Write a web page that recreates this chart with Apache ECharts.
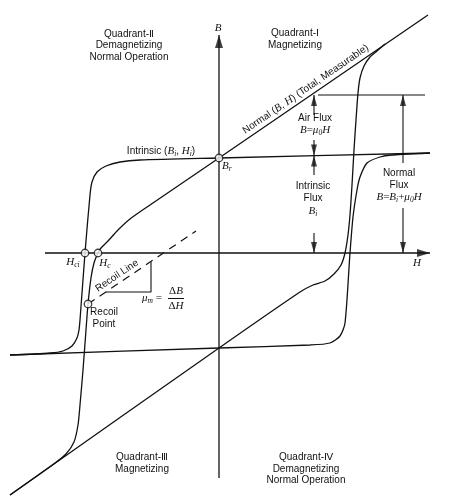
<!DOCTYPE html>
<html><head><meta charset="utf-8">
<script src="https://cdn.jsdelivr.net/npm/echarts@6/dist/echarts.min.js"></script>
<style>html,body{margin:0;padding:0;background:#fff}#c{width:463px;height:502px}</style>
</head><body><div id="c"></div>
<script>
// ---- Data in diagram units: [H, B] ----
const normalUpper = [[20.9,23.8],[0,9.5],[-6.9,4.8],[-8.9,3.4],[-10.1,2.3],[-11.1,1.2],[-11.8,0.5],[-12.1,0],[-12.5,-1.0],[-12.8,-2.5],[-13.1,-5.1],[-13.3,-7.7],[-13.6,-11.7],[-13.9,-15.2],[-14.1,-17.2],[-14.5,-18.9],[-15.3,-20.1],[-16.4,-21.0],[-20.9,-24.2]];
const normalLower = [[-20.9,-24.2],[0,-9.5],[8.1,-3.9],[9.4,-3.2],[10.6,-2.8],[11.5,-2.1],[12.2,-1.2],[12.6,0],[12.9,1.8],[13.1,3.8],[13.3,6.8],[13.5,10.3],[13.7,13.3],[13.9,16.0],[14.1,17.5],[14.5,18.7],[15.1,19.6],[15.8,20.2],[16.6,20.9]];
const intrinsicUpper = [[21.1,10.0],[0,9.5],[-7.9,9.3],[-9.9,9.1],[-11.3,8.7],[-12.2,8.1],[-12.7,7.1],[-12.9,5.8],[-13.4,0],[-13.9,-6.7],[-14.0,-7.7],[-14.2,-8.5],[-14.7,-9.3],[-15.6,-9.8],[-16.9,-10.0],[-20.9,-10.2]];
const intrinsicLower = [[-20.9,-10.2],[0,-9.5],[9.1,-9.2],[11.1,-9.0],[12.1,-8.3],[12.6,-7.0],[13.1,0],[13.4,3.6],[13.8,6.3],[14.1,7.6],[14.8,9.0],[16.1,9.6],[17.3,9.8],[21.1,10.0]];
const recoilLine = [[-13.1,-5.1],[-2.3,2.2]];
const recoilTriangle = [[-11.3,-3.9],[-6.8,-3.9],[-6.8,-0.9]];
const hAxisLine = [[-17.4,0],[21.1,0]];
const bAxisLine = [[0,-22.5],[0,21.8]];
const referenceLine = [[9.9,15.8],[20.6,15.8]];
const airFluxShafts = [[[9.5,15.8],[9.5,13.8]],[[9.5,11.3],[9.5,9.75]]];
const intrinsicFluxShafts = [[[9.5,9.75],[9.5,7.8]],[[9.5,2.0],[9.5,0]]];
const normalFluxShafts = [[[18.4,15.8],[18.4,9.0]],[[18.4,4.5],[18.4,0]]];
const arrowUpTips = [[9.5,15.8],[9.5,9.75],[18.4,15.8]];
const arrowDownTips = [[9.5,9.75],[9.5,0],[18.4,0]];
const axisTipB = [0,21.8];
const axisTipH = [21.1,0];
const keyPoints = [[0,9.5],[-13.4,0],[-12.1,0],[-13.1,-5.1]]; // Br, Hci, Hc, recoil point

const INK = '#111';
const chart = echarts.init(document.getElementById('c'), null, {renderer:'canvas'});

function line(data, extra){
  return Object.assign({type:'line', data, symbol:'none', silent:true, animation:false, z:2,
    lineStyle:{color:INK, width:1.3}}, extra||{});
}
const series = [
  line(normalUpper,{smooth:0.25}),
  line(normalLower,{smooth:0.25}),
  line(intrinsicUpper,{smooth:0.25}),
  line(intrinsicLower,{smooth:0.25}),
  line(recoilLine,{lineStyle:{color:INK,width:1.2,type:[8,6]}}),
  line(recoilTriangle,{lineStyle:{color:INK,width:1.1}}),
  line(hAxisLine,{lineStyle:{color:INK,width:1.3}}),
  line(bAxisLine,{lineStyle:{color:INK,width:1.3}}),
  line(referenceLine,{lineStyle:{color:INK,width:1.1}})
];
[...airFluxShafts, ...intrinsicFluxShafts, ...normalFluxShafts].forEach(s => series.push(line(s,{lineStyle:{color:INK,width:1.1}})));

const AH = 11, AW = 6;
series.push({type:'scatter', silent:true, animation:false, z:4, symbol:'triangle', symbolSize:[AW,AH],
  itemStyle:{color:INK},
  data: [
    ...arrowUpTips.map(p => ({value:p, symbolRotate:0, symbolOffset:[0, AH/2]})),
    ...arrowDownTips.map(p => ({value:p, symbolRotate:180, symbolOffset:[0, -AH/2]})),
    {value:axisTipB, symbolRotate:0, symbolOffset:[0,6.5], symbolSize:[8,13]},
    {value:axisTipH, symbolRotate:-90, symbolOffset:[-6.5,0], symbolSize:[8,13]}
  ]});
series.push({type:'scatter', silent:true, animation:false, z:5, symbol:'circle', symbolSize:7.5,
  itemStyle:{color:'#fff', borderColor:INK, borderWidth:1.3}, data:keyPoints});

const RICH = {
  it:{fontFamily:'Liberation Serif', fontStyle:'italic', fontSize:11, fill:INK},
  sub:{fontFamily:'Liberation Serif', fontStyle:'italic', fontSize:7.5, padding:[6,0,0,0], fill:INK},
  n:{fontFamily:'Liberation Sans', fontSize:10, fill:INK},
  d:{fontFamily:'Liberation Serif', fontSize:11, fill:INK}
};
function txt(x, y, text, o){
  o = o || {};
  return {type:'text', x, y, rotation:o.rot||0, z:10, silent:true,
    style:Object.assign({text, fill:INK, fontSize:10, fontFamily:'Liberation Sans',
      align:'center', verticalAlign:'middle', lineHeight:o.lh||11.5, rich:RICH}, o.style||{})};
}
const graphics = [
  txt(129,45.5,'Quadrant-Ⅱ\nDemagnetizing\nNormal Operation'),
  txt(295,39,'Quadrant-Ⅰ\nMagnetizing'),
  txt(142,463,'Quadrant-Ⅲ\nMagnetizing'),
  txt(306,469,'Quadrant-Ⅳ\nDemagnetizing\nNormal Operation'),
  txt(218,28,'{it|B}'),
  txt(417,263,'{it|H}'),
  txt(222,166,'{it|B}{sub|r}',{style:{align:'left'}}),
  txt(73,262,'{it|H}{sub|ci}'),
  txt(105,263,'{it|H}{sub|c}'),
  txt(161,151,'Intrinsic ({it|B}{sub|i}, {it|H}{sub|i})'),
  txt(315,124,'Air Flux\n{it|B}{d|=}{it|μ}{sub|0}{it|H}',{lh:12}),
  txt(313,198.5,'Intrinsic\nFlux\n{it|B}{sub|i}',{lh:12.5}),
  txt(399,185,'Normal\nFlux\n{it|B}{d|=}{it|B}{sub|i}{d|+}{it|μ}{sub|0}{it|H}',{lh:12}),
  txt(104,318,'Recoil\nPoint',{lh:12}),
  txt(152,298,'{it|μ}{sub|m} {d|=}'),
  txt(176,291,'{d|Δ}{it|B}'),
  txt(176,306,'{d|Δ}{it|H}'),
  {type:'line', silent:true, z:10, shape:{x1:168,y1:298.5,x2:184,y2:298.5}, style:{stroke:INK, lineWidth:1}},
  txt(309,94,'Normal ({it|B}, {it|H}) (Total, Measurable)',{rot:0.600, style:{verticalAlign:'bottom'}}),
  txt(120.2,280.5,'Recoil Line',{rot:0.595, style:{verticalAlign:'bottom'}})
];

chart.setOption({
  animation:false,
  backgroundColor:'#fff',
  grid:{left:0,right:0,top:0,bottom:0,containLabel:false,outerBoundsMode:'none'},
  xAxis:{type:'value', min:-21.9, max:24.4, show:false},
  yAxis:{type:'value', min:-24.9, max:25.3, show:false},
  series,
  graphic:graphics
});
</script></body></html>
